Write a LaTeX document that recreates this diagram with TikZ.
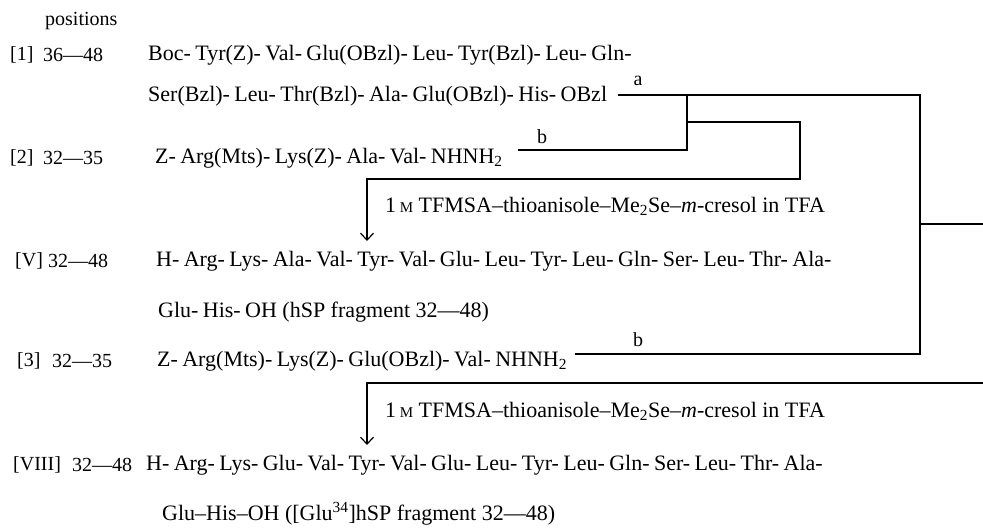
\documentclass[tikz,border=0pt]{standalone}
\usepackage{fontspec}
\setmainfont{Liberation Serif}
\usetikzlibrary{positioning,arrows.meta}

\tikzstyle{seq} = [anchor=west, inner sep=0pt, font=\fontsize{22}{22}\selectfont]
\tikzstyle{tag} = [anchor=west, inner sep=0pt, font=\fontsize{20}{20}\selectfont]
\tikzstyle{lab} = [inner sep=0pt, font=\fontsize{20}{20}\selectfont]
\tikzstyle{wire} = [line width=1.2pt]

\newcommand{\lk}{-\kern0.2em}
\newcommand{\molar}{{\fontsize{15}{15}\selectfont M}}

\begin{document}
\begin{tikzpicture}[x=1pt, y=-1pt]
\useasboundingbox (0,0) rectangle (983,532);
%heading
\node[tag] (head) at (45,21) {positions};
%begin row-1
\node[tag] (b1) at (10,55) {[1]};
\node[tag] (r1) at (43,55) {36---48};
\node[seq] (s1) at (148,55) {Boc\lk Tyr(Z)\lk Val\lk Glu(OBzl)\lk Leu\lk Tyr(Bzl)\lk Leu\lk Gln\lk};
\node[seq] (s1b) at (148,96) {Ser(Bzl)\lk Leu\lk Thr(Bzl)\lk Ala\lk Glu(OBzl)\lk His\lk OBzl};
%end row-1
%begin row-2
\node[tag] (b2) at (10,158) {[2]};
\node[tag] (r2) at (43,158) {32---35};
\node[seq] (s2) at (155,158) {Z\lk Arg(Mts)\lk Lys(Z)\lk Ala\lk Val\lk NHNH\textsubscript{2}};
%end row-2
%begin step-1
\node[seq] (t1) at (385,206) {1\,\molar\ TFMSA--thioanisole--Me\textsubscript{2}Se--\textit{m}-cresol in TFA};
%end step-1
%begin row-V
\node[tag] (b5) at (15,261) {[V]};
\node[tag] (r5) at (48,261) {32---48};
\node[seq] (s5) at (156,261) {H\lk Arg\lk Lys\lk Ala\lk Val\lk Tyr\lk Val\lk Glu\lk Leu\lk Tyr\lk Leu\lk Gln\lk Ser\lk Leu\lk Thr\lk Ala\lk};
\node[seq] (s5b) at (158,312) {Glu\lk His\lk OH (hSP fragment 32---48)};
%end row-V
%begin row-3
\node[tag] (b3) at (17,361) {[3]};
\node[tag] (r3) at (52,361) {32---35};
\node[seq] (s3) at (157,361) {Z\lk Arg(Mts)\lk Lys(Z)\lk Glu(OBzl)\lk Val\lk NHNH\textsubscript{2}};
%end row-3
%begin step-2
\node[seq] (t2) at (385,411) {1\,\molar\ TFMSA--thioanisole--Me\textsubscript{2}Se--\textit{m}-cresol in TFA};
%end step-2
%begin row-VIII
\node[tag] (b8) at (13,465) {[VIII]};
\node[tag] (r8) at (72,465) {32---48};
\node[seq] (s8) at (146,465) {H\lk Arg\lk Lys\lk Glu\lk Val\lk Tyr\lk Val\lk Glu\lk Leu\lk Tyr\lk Leu\lk Gln\lk Ser\lk Leu\lk Thr\lk Ala\lk};
\node[seq] (s8b) at (162,514) {Glu--His--OH ([Glu\textsuperscript{34}]hSP fragment 32---48)};
%end row-VIII
%begin joins
\coordinate (a0) at (618,95);
\coordinate (ja) at (687,95);
\coordinate (ar) at (920,95);
\coordinate (b0) at (518,150);
\coordinate (jb) at (687,150);
\coordinate (jm) at (687,122);
\coordinate (rm) at (800,122);
\coordinate (rb) at (800,179);
\coordinate (k1) at (367,179);
\coordinate (tip1) at (367,241);
\coordinate (c0) at (575,354);
\coordinate (cr) at (920,354);
\coordinate (out1) at (920,224);
\coordinate (edge1) at (983,224);
\coordinate (edge2) at (983,383);
\coordinate (k2) at (367,383);
\coordinate (tip2) at (367,445);
\node[lab] (la) at (638,81) {a};
\node[lab] (lb) at (542,137) {b};
\node[lab] (lc) at (638,340) {b};
\draw[wire] (a0) -- (ar) -- (cr) -- (c0);
\draw[wire] (b0) -- (jb) -- (ja);
\draw[wire, -{Straight Barb[length=7pt,width=13pt]}] (jm) -- (rm) -- (rb) -- (k1) -- (tip1);
\draw[wire] (out1) -- (edge1);
\draw[wire, -{Straight Barb[length=7pt,width=13pt]}] (edge2) -- (k2) -- (tip2);
%end joins
\end{tikzpicture}
\end{document}
